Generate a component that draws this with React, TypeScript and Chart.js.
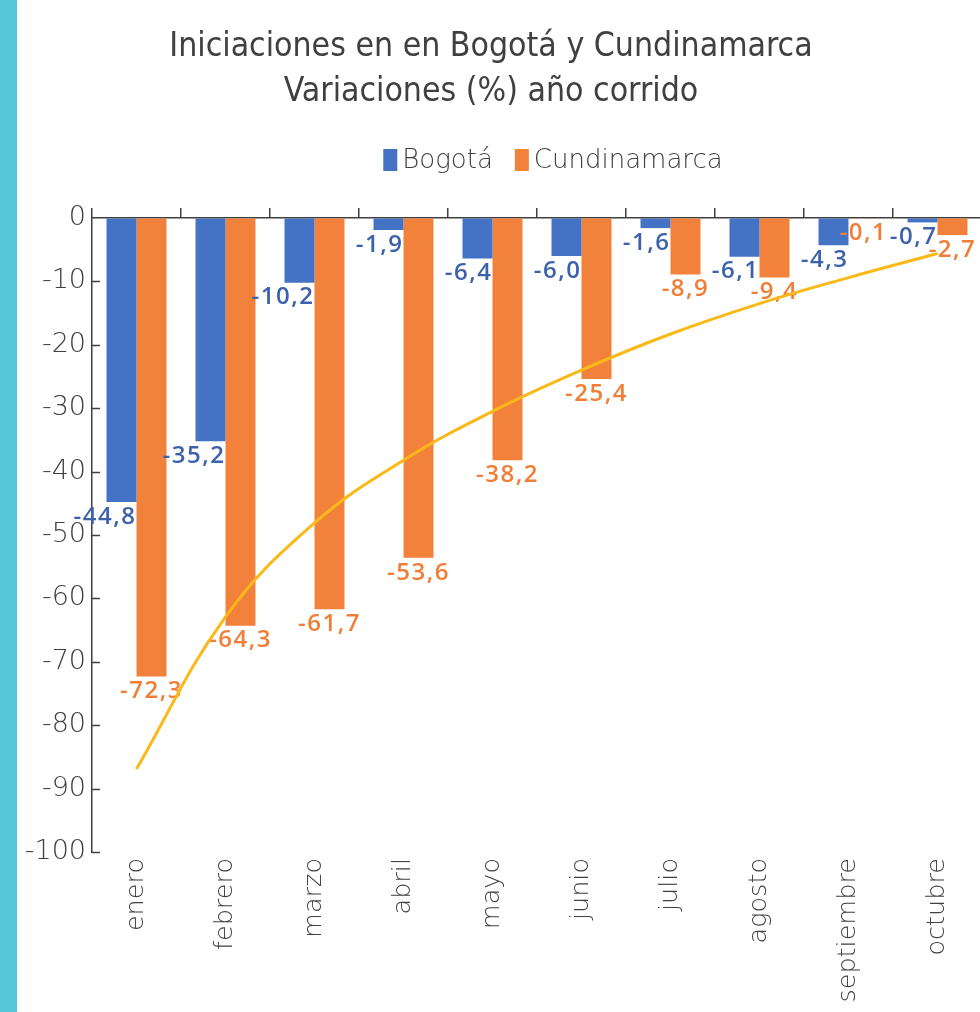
import { useEffect, useRef } from 'react';
import { Chart, registerables } from 'chart.js';

Chart.register(...registerables);

const months = ['enero', 'febrero', 'marzo', 'abril', 'mayo', 'junio', 'julio', 'agosto', 'septiembre', 'octubre'];
const bogota = [-44.8, -35.2, -10.2, -1.9, -6.4, -6.0, -1.6, -6.1, -4.3, -0.7];
const cundinamarca = [-72.3, -64.3, -61.7, -53.6, -38.2, -25.4, -8.9, -9.4, -0.1, -2.7];
const trend = [-86.9, -62.9, -48.1, -38.2, -30.5, -24.0, -18.3, -13.5, -9.4, -5.6];
const titleLines = ['Iniciaciones en en Bogotá y Cundinamarca', 'Variaciones (%) año corrido'];
const seriesNames = ['Bogotá', 'Cundinamarca'];

const BLUE = '#4472C4';
const ORANGE = '#F2813B';
const BLUE_TXT = '#3D62AC';
const ORANGE_TXT = '#F07E36';
const GOLD = '#FBB917';
const AXIS = '#404040';
const LIGHT = "'DejaVu Sans', sans-serif";

const fmt = (v: number) => v.toFixed(1).replace('.', ',');

const valueLabels = {
  id: 'valueLabels',
  beforeDatasetDraw(chart: any, args: any) {
    if (args.index !== 2) return;
    const ctx = chart.ctx;
    ctx.save();
    ctx.font = "600 24px 'Open Sans'";
    (ctx as any).letterSpacing = '1.5px';
    ctx.textBaseline = 'middle';
    [1, 0].forEach((idx) => {
      const ds = chart.data.datasets[idx];
      const meta = chart.getDatasetMeta(idx);
      ctx.fillStyle = idx === 0 ? BLUE_TXT : ORANGE_TXT;
      meta.data.forEach((bar: any, i: number) => {
        const p = bar.getProps(['x', 'y', 'width'], true);
        const t = fmt(ds.data[i]);
        if (idx === 0) {
          ctx.textAlign = 'right';
          ctx.fillText(t, p.x + p.width / 2, p.y + 15);
        } else {
          ctx.textAlign = 'center';
          ctx.fillText(t, p.x, p.y + 15);
        }
      });
    });
    ctx.restore();
  },
};

const innerTicks = {
  id: 'innerTicks',
  afterDraw(chart: any) {
    const y = chart.scales.y;
    const ctx = chart.ctx;
    ctx.save();
    ctx.strokeStyle = AXIS;
    ctx.lineWidth = 1.5;
    y.ticks.forEach((t: any) => {
      if (t.value === 0) return;
      const py = Math.round(y.getPixelForValue(t.value)) + 0.5;
      ctx.beginPath();
      ctx.moveTo(y.right, py);
      ctx.lineTo(y.right + 8, py);
      ctx.stroke();
    });
    ctx.restore();
  },
};

const customLegend = {
  id: 'customLegend',
  afterDraw(chart: any) {
    const ctx = chart.ctx;
    ctx.save();
    ctx.font = `200 26px ${LIGHT}`;
    ctx.textBaseline = 'middle';
    ctx.textAlign = 'left';
    const box = 14, gapText = 5, gapItem = 22, cy = 160;
    const colors = [BLUE, ORANGE];
    const widths = seriesNames.map((n) => ctx.measureText(n).width);
    const total = widths.reduce((a, w) => a + box + gapText + w, 0) + gapItem;
    let x = 553 - total / 2;
    seriesNames.forEach((n, i) => {
      ctx.fillStyle = colors[i];
      ctx.fillRect(x, cy - 11, box, 22);
      x += box + gapText;
      ctx.fillStyle = AXIS;
      ctx.fillText(n, x, cy + 1);
      x += widths[i] + gapItem;
    });
    ctx.restore();
  },
};

export default function App() {
  const ref = useRef<HTMLCanvasElement>(null);
  useEffect(() => {
    if (!ref.current) return;
    const chart = new Chart(ref.current, {
      type: 'bar',
      data: {
        labels: months,
        datasets: [
          { label: seriesNames[0], data: bogota, backgroundColor: BLUE, barPercentage: 1, categoryPercentage: 0.674, order: 1 },
          { label: seriesNames[1], data: cundinamarca, backgroundColor: ORANGE, barPercentage: 1, categoryPercentage: 0.674, order: 2 },
          {
            type: 'line', label: 'Tendencia', data: trend, borderColor: GOLD, borderWidth: 3,
            pointRadius: 0, tension: 0.4, fill: false, order: 0,
          } as any,
        ],
      },
      options: {
        responsive: false,
        animation: false,
        devicePixelRatio: 1,
        layout: { padding: { left: 0, right: 30, top: 0, bottom: 0 } },
        plugins: {
          legend: { display: false },
          tooltip: { enabled: false },
          title: {
            display: true,
            text: titleLines,
            color: AXIS,
            font: { family: "'Liberation Sans Narrow', 'DejaVu Sans Condensed', sans-serif", size: 33.5, weight: 'normal', lineHeight: 1.34 },
            padding: { top: 25, bottom: 93.2 },
          },
        },
        scales: {
          x: {
            type: 'category',
            position: 'bottom',
            grid: { display: false, drawTicks: false },
            border: { display: false },
            ticks: {
              autoSkip: false, minRotation: 90, maxRotation: 90, padding: 6,
              color: AXIS, font: { family: LIGHT, size: 25.5, weight: '200' },
            },
            afterFit: (s: any) => { s.height = 160; },
          },
          x2: {
            type: 'category',
            labels: months,
            position: 'top',
            offset: true,
            grid: { offset: true, drawOnChartArea: false, drawTicks: true, tickLength: 10, color: AXIS, lineWidth: 1.5 },
            border: { display: true, color: AXIS, width: 1.5 },
            ticks: { display: false },
            afterFit: (s: any) => { s.height = 10; },
          },
          y: {
            min: -100, max: 0,
            grid: { drawOnChartArea: false, drawTicks: false },
            border: { display: true, color: AXIS, width: 1.5 },
            ticks: { stepSize: 10, padding: 6, color: AXIS, font: { family: LIGHT, size: 27, weight: '200' } },
            afterFit: (s: any) => { s.width = 92; },
          },
        } as any,
      },
      plugins: [valueLabels, innerTicks, customLegend],
    });
    return () => chart.destroy();
  }, []);

  return (
    <div style={{ position: 'absolute', left: 0, top: 0, width: 980, height: 1012, overflow: 'hidden', background: '#fff' }}>
      <canvas ref={ref} width={1012} height={1012} style={{ display: 'block', width: 1012, height: 1012 }} />
      <div style={{ position: 'absolute', left: 0, top: 0, width: 17, height: 1012, background: '#56C6D9' }} />
    </div>
  );
}
